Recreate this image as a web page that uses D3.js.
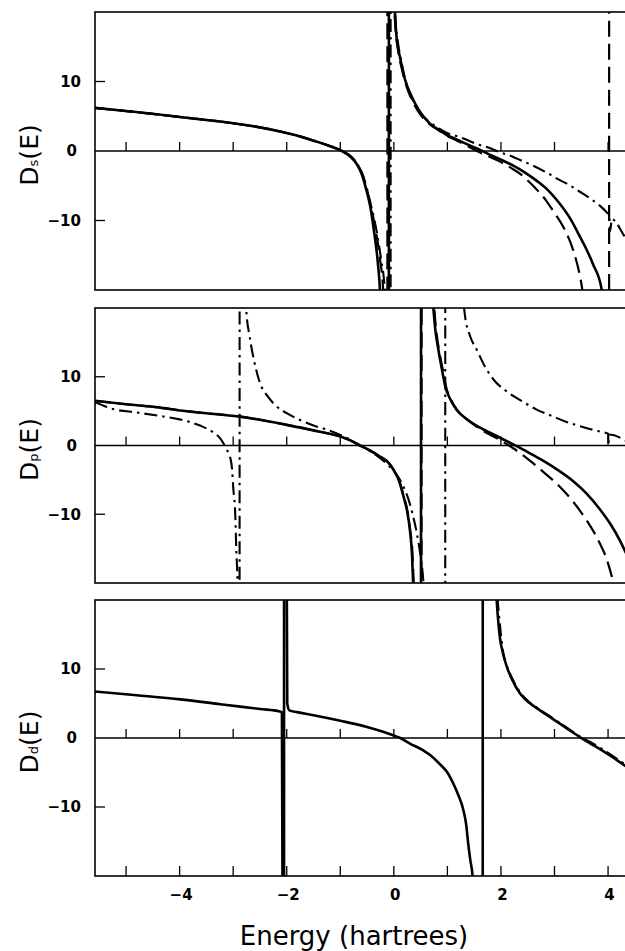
<!DOCTYPE html>
<html>
<head>
<meta charset="utf-8">
<title>Logarithmic derivatives</title>
<style type="text/css">
  body{ margin:0; background:#fff; }
  svg{ display:block; }
  .tick-label{ font-family:'DejaVu Sans', sans-serif; font-weight:bold; font-size:15px; fill:#000; }
  .title{ font-family:'DejaVu Sans', sans-serif; font-size:25px; fill:#000; }
  .curve{ fill:none; stroke:#000; stroke-linejoin:round; }
</style>
</head>
<body>
<div id="chart"></div>
<script src="https://d3js.org/d3.v7.min.js"></script>
<script>

// ---- values: [energy, D(E)] ----
// points beyond +-20 sit outside the frame and are clipped (they make the pole lines)

// s channel
var sSolid = [[-5.58,6.2],[-5.0,5.75],[-4.55,5.4],[-4.0,4.9],[-3.5,4.45],[-3.0,4.0],[-2.5,3.4],
  [-2.06,2.7],[-1.75,2.1],[-1.44,1.35],[-1.2,0.72],[-0.97,0],[-0.8,-0.9],[-0.69,-1.9],[-0.6,-3.3],
  [-0.51,-5.7],[-0.44,-8],[-0.38,-11],[-0.30,-16],[-0.26,-20],[-0.16,-60],[-0.10,-400],
  [-0.085,400],[-0.03,60],[0.0,24],[0.05,16.5],[0.12,13.3],[0.2,10.5],[0.3,8.4],[0.4,6.8],
  [0.55,5.0],[0.68,3.9],[0.85,3.0],[0.99,2.3],[1.15,1.75],[1.30,1.2],[1.48,0.6],[1.64,0.05],
  [1.80,-0.55],[2.0,-1.25],[2.23,-2.1],[2.45,-3.1],[2.67,-4.3],[2.9,-5.8],[3.10,-7.6],[3.3,-9.8],
  [3.48,-12.4],[3.6,-14.2],[3.72,-16.3],[3.88,-19.9],[4.05,-35]];
var sDashed = [[-5.58,6.2],[-5.0,5.75],[-4.0,4.9],[-3.0,4.0],[-2.5,3.4],[-2.06,2.7],[-1.75,2.1],
  [-1.44,1.35],[-1.2,0.72],[-0.97,0],[-0.8,-0.8],[-0.69,-1.8],[-0.6,-3.1],[-0.51,-5.3],[-0.44,-7.6],
  [-0.36,-10.5],[-0.26,-15.5],[-0.20,-20],[-0.14,-60],[-0.125,-400],[-0.115,400],[-0.03,40],
  [0.02,19],[0.08,14.5],[0.15,11.8],[0.25,9.0],[0.36,7.0],[0.5,5.2],[0.68,3.8],[0.85,2.9],
  [0.99,2.2],[1.15,1.6],[1.30,1.0],[1.55,0],[1.72,-0.6],[2.0,-1.6],[2.18,-2.4],[2.36,-3.3],
  [2.6,-5.0],[2.85,-7.2],[3.0,-8.9],[3.17,-11],[3.35,-14.3],[3.48,-18.2],[3.52,-20],[3.7,-40],
  [3.95,-150],[4.01,-600],[4.03,600],[4.2,80],[4.35,45]];
var sDashDot = [[-5.58,6.2],[-5.0,5.75],[-4.0,4.9],[-3.0,4.0],[-2.5,3.4],[-2.06,2.7],[-1.75,2.1],
  [-1.44,1.35],[-1.2,0.72],[-0.97,0],[-0.8,-0.8],[-0.69,-1.8],[-0.6,-3.0],[-0.51,-5.2],[-0.44,-7.4],
  [-0.36,-10],[-0.24,-15.5],[-0.17,-20],[-0.11,-60],[-0.065,-400],[-0.055,400],[-0.01,40],
  [0.03,19],[0.08,15.5],[0.15,12.5],[0.25,9.3],[0.36,7.2],[0.5,5.4],[0.68,4.1],[0.85,3.2],
  [0.99,2.6],[1.15,2.2],[1.30,1.8],[1.55,1.0],[1.80,0.4],[1.98,-0.2],[2.15,-0.6],[2.30,-1.1],
  [2.60,-2.1],[2.90,-3.3],[3.10,-4.2],[3.23,-4.7],[3.48,-5.9],[3.66,-6.8],[3.85,-7.9],
  [3.97,-8.8],[4.02,-9.3],[4.04,-11.5],[4.07,-9.8],[4.32,-12.4],[4.35,-12.7]];

// p channel
var pSolid = [[-5.58,6.5],[-5.0,6.0],[-4.4,5.55],[-3.99,5.1],[-3.24,4.5],[-2.87,4.2],[-2.4,3.6],
  [-2.0,3.0],[-1.5,2.2],[-1.0,1.3],[-0.8,0.7],[-0.63,0],[-0.45,-0.7],[-0.26,-1.6],[-0.1,-2.5],
  [0.0,-3.6],[0.1,-5.2],[0.18,-7.4],[0.25,-9.6],[0.30,-12.3],[0.34,-16],[0.36,-20],[0.45,-60],
  [0.50,-400],[0.515,400],[0.58,60],[0.72,22],[0.74,19.8],[0.78,16.5],[0.83,14],[0.9,11],
  [0.96,8.6],[1.05,6.8],[1.17,5.2],[1.35,3.9],[1.61,2.6],[1.9,1.45],[2.23,0.15],[2.5,-0.95],
  [2.73,-1.95],[3.05,-3.5],[3.35,-5.2],[3.6,-7.0],[3.85,-9.3],[4.05,-11.5],[4.22,-13.8],
  [4.35,-15.9]];
var pDashed = [[-5.58,6.5],[-5.0,6.0],[-4.4,5.55],[-3.99,5.1],[-3.24,4.5],[-2.87,4.2],[-2.4,3.6],
  [-2.0,3.0],[-1.5,2.2],[-1.0,1.3],[-0.8,0.7],[-0.63,0],[-0.45,-0.7],[-0.26,-1.6],[-0.1,-2.5],
  [0.0,-3.6],[0.1,-5.1],[0.18,-7.2],[0.25,-9.4],[0.30,-12.0],[0.35,-16],[0.37,-20],[0.46,-60],
  [0.51,-400],[0.525,400],[0.60,60],[0.74,22],[0.76,19.5],[0.80,16.2],[0.85,13.6],[0.92,10.8],
  [0.98,8.4],[1.07,6.6],[1.19,5.1],[1.37,3.8],[1.61,2.4],[2.0,0.7],[2.23,-0.4],[2.54,-2.2],
  [2.8,-3.9],[3.10,-6.0],[3.35,-8.2],[3.60,-10.9],[3.75,-12.8],[3.85,-14.3],[3.95,-16.0],
  [4.04,-18.2],[4.10,-20],[4.2,-24],[4.35,-30]];
var pDashDot = [[-5.58,6.3],[-5.24,5.3],[-4.8,4.8],[-4.37,4.3],[-4.0,3.8],[-3.62,2.9],[-3.37,1.9],
  [-3.25,1.1],[-3.18,0.3],[-3.12,-0.6],[-3.06,-1.6],[-3.02,-3.5],[-3.0,-6.0],[-2.96,-10.3],
  [-2.94,-15.6],[-2.92,-19.6],[-2.90,-60],[-2.885,-400],[-2.875,400],[-2.82,60],[-2.76,21],
  [-2.75,19.2],[-2.70,16.2],[-2.65,13.9],[-2.58,11.3],[-2.50,9.1],[-2.35,7.1],[-2.19,5.7],
  [-2.0,4.7],[-1.75,3.7],[-1.5,2.9],[-1.25,2.3],[-0.88,1.1],[-0.63,0],[-0.45,-0.8],[-0.26,-1.8],
  [-0.1,-2.9],[0.05,-4.2],[0.18,-6.0],[0.28,-8.0],[0.36,-10.3],[0.43,-12.8],[0.49,-15.6],
  [0.55,-19.6],[0.7,-50],[0.955,-500],[0.965,500],[1.2,40],[1.30,21],[1.33,18.8],[1.42,16],
  [1.55,13.9],[1.7,11.5],[1.86,9.6],[2.1,7.9],[2.36,6.6],[2.65,5.3],[2.98,4.2],[3.2,3.5],
  [3.48,2.8],[3.75,2.2],[3.97,1.8],[4.0,1.7],[4.01,0],[4.015,1.6],[4.35,0.6]];

// d channel
var dSolid = [[-5.58,6.75],[-4.8,6.2],[-3.99,5.6],[-3.24,4.9],[-2.5,4.2],[-2.13,3.85],[-2.09,3.7],
  [-2.075,-30],[-2.055,-500],[-2.045,500],[-2.0,25],[-1.99,5.0],[-1.95,4.0],[-1.81,3.75],
  [-1.5,3.3],[-1.0,2.5],[-0.5,1.6],[-0.2,0.9],[0.0,0.36],[0.12,0],[0.3,-0.8],[0.55,-1.8],
  [0.7,-2.6],[0.86,-3.8],[1.0,-5.0],[1.11,-6.6],[1.2,-8.2],[1.30,-10.5],[1.35,-12.5],[1.39,-15.4],
  [1.43,-17.8],[1.47,-20],[1.6,-60],[1.655,-500],[1.665,500],[1.75,60],[1.92,20],[1.98,14.6],
  [2.04,12.2],[2.11,10.3],[2.2,8.6],[2.36,6.4],[2.5,5.3],[2.73,4.0],[3.0,2.6],[3.23,1.4],
  [3.48,0.1],[3.65,-0.7],[3.85,-1.6],[4.05,-2.6],[4.22,-3.5],[4.35,-4.2]];
var dDashDot = [[1.90,24],[1.95,19],[2.0,15],[2.04,12.5],[2.11,10.5],[2.2,8.8],[2.36,6.6],
  [2.5,5.4],[2.73,4.1],[3.0,2.7],[3.23,1.5],[3.48,0.2],[3.65,-0.5],[3.85,-1.4],[4.05,-2.4],
  [4.22,-3.3],[4.35,-4.0]];

var yTickValues = [-10, 0, 10];
var xTickValues = [-5, -4, -3, -2, -1, 0, 1, 2, 3, 4];
var xLabelValues = [-4, -2, 0, 2, 4];
var xTitle = "Energy (hartrees)";

// ---- layout ----
var width = 625, height = 951;

var x = d3.scaleLinear().domain([-5.58, 4.35]).range([95, 626.8]);

var styles = {
  solid:   { w: 2.6, dash: null },
  dashed:  { w: 2.2, dash: "16,7" },
  dashdot: { w: 2.1, dash: "13,5,2.5,5" }
};

var panels = [
  { sub: "s", top: 12,  bottom: 290, bottomTicks: false,
    series: [[sDashed,"dashed"],[sDashDot,"dashdot"],[sSolid,"solid"]] },
  { sub: "p", top: 308, bottom: 583, bottomTicks: false,
    series: [[pDashed,"dashed"],[pDashDot,"dashdot"],[pSolid,"solid"]] },
  { sub: "d", top: 600, bottom: 876, bottomTicks: true,
    series: [[dDashDot,"dashdot"],[dSolid,"solid"]] }
];

var svg = d3.select("#chart").append("svg")
    .attr("width", width)
    .attr("height", height);

panels.forEach(function(p, i){

    var y = d3.scaleLinear().domain([-20, 20]).range([p.bottom, p.top]);
    var g = svg.append("g");

    //clip for the curves
    g.append("clipPath")
        .attr("id", "clip" + i)
      .append("rect")
        .attr("x", x.range()[0])
        .attr("y", p.top)
        .attr("width", x.range()[1] - x.range()[0])
        .attr("height", p.bottom - p.top);

    //zero line
    g.append("line")
        .attr("x1", x.range()[0]).attr("x2", x.range()[1])
        .attr("y1", y(0)).attr("y2", y(0))
        .attr("stroke", "#000").attr("stroke-width", 1.3);

    //x ticks on the zero line, pointing up
    g.selectAll(".xt")
        .data(xTickValues)
        .enter().append("line")
        .attr("x1", function(d){ return x(d); }).attr("x2", function(d){ return x(d); })
        .attr("y1", y(0)).attr("y2", y(0) - 9)
        .attr("stroke", "#000").attr("stroke-width", 1.3);

    if(p.bottomTicks){
        g.selectAll(".xb")
            .data(xTickValues)
            .enter().append("line")
            .attr("x1", function(d){ return x(d); }).attr("x2", function(d){ return x(d); })
            .attr("y1", p.bottom).attr("y2", p.bottom - 10)
            .attr("stroke", "#000").attr("stroke-width", 1.3);

        g.selectAll(".xl")
            .data(xLabelValues)
            .enter().append("text")
            .attr("class", "tick-label")
            .attr("x", function(d){ return x(d) + 1.5; })
            .attr("y", p.bottom + 24)
            .attr("text-anchor", "middle")
            .text(function(d){ return d3.format("d")(d); });
    }

    //y ticks, inward from the left side
    g.selectAll(".yt")
        .data(yTickValues.filter(function(d){ return d != 0; }))
        .enter().append("line")
        .attr("x1", x.range()[0]).attr("x2", x.range()[0] + 10)
        .attr("y1", function(d){ return y(d); }).attr("y2", function(d){ return y(d); })
        .attr("stroke", "#000").attr("stroke-width", 1.3);

    g.selectAll(".yl")
        .data(yTickValues)
        .enter().append("text")
        .attr("class", "tick-label")
        .attr("x", function(d){ return d == 0 ? 77 : 81; })
        .attr("y", function(d){ return y(d); })
        .attr("dy", "0.36em")
        .attr("text-anchor", "end")
        .text(function(d){ return d3.format("d")(d); });

    //the curves
    var line = d3.line()
        .curve(d3.curveMonotoneX)
        .x(function(d){ return x(d[0]); })
        .y(function(d){ return y(d[1]); });

    var cg = g.append("g").attr("clip-path", "url(#clip" + i + ")");
    p.series.forEach(function(s){
        var st = styles[s[1]];
        cg.append("path")
            .datum(s[0])
            .attr("class", "curve")
            .attr("d", line)
            .attr("stroke-width", st.w)
            .attr("stroke-dasharray", st.dash);
    });

    //frame (right side falls just outside the picture)
    g.append("rect")
        .attr("x", x.range()[0])
        .attr("y", p.top)
        .attr("width", x.range()[1] - x.range()[0])
        .attr("height", p.bottom - p.top)
        .attr("fill", "none")
        .attr("stroke", "#000")
        .attr("stroke-width", 1.6);

    //y axis title D_l(E)
    var t = g.append("text")
        .attr("class", "title")
        .attr("text-anchor", "middle")
        .attr("transform", "translate(37.5," + (y(0) + 4) + ") rotate(-90)");
    t.append("tspan").text("D");
    t.append("tspan").attr("font-size", "13px").text(p.sub);
    t.append("tspan").text("(E)");
});

//x axis title
svg.append("text")
    .attr("class", "title")
    .attr("x", 354)
    .attr("y", 945)
    .attr("text-anchor", "middle")
    .style("font-size", "26px")
    .text(xTitle);

</script>
</body>
</html>
